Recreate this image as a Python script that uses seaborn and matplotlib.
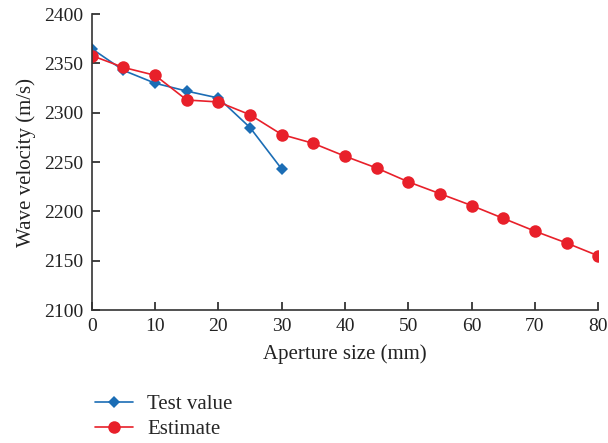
import numpy as np
import matplotlib
matplotlib.use("Agg")
import matplotlib.pyplot as plt
import seaborn as sns
import pandas as pd

test_x = [0, 5, 10, 15, 20, 25, 30]
test_v = [2365, 2343, 2330, 2322, 2315, 2285, 2243]
est_x = [0, 5, 10, 15, 20, 25, 30, 35, 40, 45, 50, 55, 60, 65, 70, 75, 80]
est_v = [2358, 2346, 2338, 2313, 2311, 2298, 2278, 2269, 2256, 2244,
         2230, 2218, 2206, 2193, 2180, 2168, 2155]

sns.set_style("ticks")
plt.rcParams['font.family'] = ['Liberation Serif', 'DejaVu Serif']

fig = plt.figure(figsize=(6.08, 4.43), dpi=100)
ax = fig.add_axes([0.151, 0.30, 0.833, 0.668])

sns.lineplot(x=test_x, y=test_v, ax=ax, color="#1b6db5", marker="D",
             markersize=6, markeredgewidth=0, linewidth=1.2, label="Test value")
sns.lineplot(x=est_x, y=est_v, ax=ax, color="#e8202a", marker="o",
             markersize=9, markeredgewidth=0, linewidth=1.2, label="Estimate")

ax.set_xlim(0, 80)
ax.set_ylim(2100, 2400)
ax.set_xticks(range(0, 81, 10))
ax.set_yticks(range(2100, 2401, 50))
ax.tick_params(direction="in", length=6, width=1.2, labelsize=14,
               colors="#222222", pad=6)
for s in ["top", "right"]:
    ax.spines[s].set_visible(False)
for s in ["left", "bottom"]:
    ax.spines[s].set_linewidth(1.2)
    ax.spines[s].set_color("#333333")
ax.set_xlabel("Aperture size (mm)", fontsize=15, color="#222222", labelpad=6)
ax.set_ylabel("Wave velocity (m/s)", fontsize=15, color="#222222", labelpad=6)

ax.legend(loc="upper left", bbox_to_anchor=(-0.03, -0.222), frameon=False,
          fontsize=15, handlelength=1.8, handletextpad=0.7, labelspacing=0.25)

fig.savefig("out.png", dpi=100)
